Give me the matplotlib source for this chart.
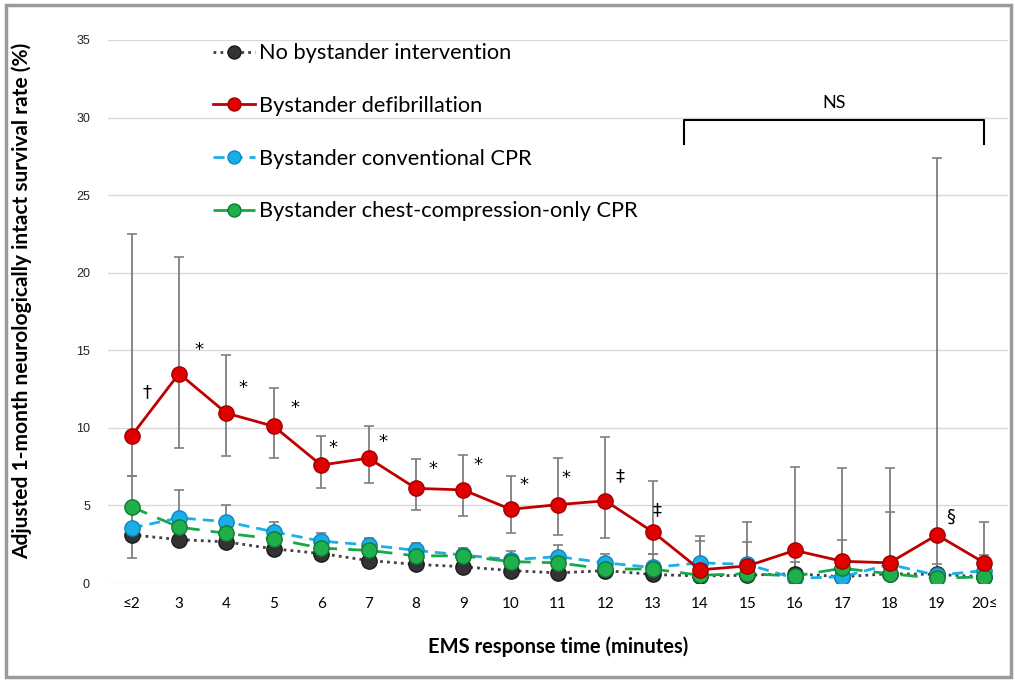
import matplotlib
matplotlib.use("Agg")
import matplotlib.pyplot as plt
from matplotlib.patches import Rectangle
import numpy as np

categories = ["≤2", "3", "4", "5", "6", "7", "8", "9", "10", "11", "12", "13",
              "14", "15", "16", "17", "18", "19", "20≤"]

no_bystander = [3.1, 2.8, 2.65, 2.2, 1.9, 1.45, 1.2, 1.05, 0.8, 0.65, 0.8, 0.55,
                0.45, 0.5, 0.6, 0.4, 0.6, 0.55, 0.4]
defib = [9.5, 13.5, 10.95, 10.1, 7.6, 8.05, 6.1, 6.0, 4.75, 5.05, 5.3, 3.3,
         0.85, 1.1, 2.1, 1.4, 1.3, 3.1, 1.3]
defib_lo = [6.9, 8.7, 8.2, 8.05, 6.1, 6.45, 4.7, 4.3, 3.2, 3.1, 2.9, 1.9,
            0.2, 0.3, 0.5, 0.3, 0.2, 0.3, 0.3]
defib_hi = [22.5, 21.0, 14.7, 12.6, 9.45, 10.1, 8.0, 8.25, 6.9, 8.05, 9.4, 6.6,
            3.0, 3.9, 7.45, 7.4, 7.4, 27.4, 3.9]
conv_cpr = [3.55, 4.2, 3.95, 3.3, 2.7, 2.45, 2.1, 1.8, 1.5, 1.7, 1.3, 1.0,
            1.3, 1.2, 0.3, 0.4, 1.2, 0.5, 0.8]
conv_lo = [1.6, 2.9, 3.0, 2.7, 2.2, 2.0, 1.7, 1.4, 1.1, 1.1, 0.9, 0.6,
           0.3, 0.3, 0.1, 0.1, 0.3, 0.1, 0.3]
conv_hi = [6.9, 6.0, 5.0, 3.9, 3.2, 2.9, 2.6, 2.25, 2.05, 2.45, 1.9, 1.9,
           2.7, 2.65, 1.35, 2.8, 4.6, 1.2, 1.8]
cc_cpr = [4.9, 3.6, 3.2, 2.85, 2.25, 2.1, 1.75, 1.75, 1.38, 1.3, 0.9, 0.9,
          0.5, 0.6, 0.45, 0.95, 0.6, 0.3, 0.4]

sig_marks = ["†", "*", "*", "*", "*", "*", "*", "*", "*", "*", "‡", "‡", "§"]
sig_x = [0.32, 1.43, 2.34, 3.44, 4.24, 5.3, 6.35, 7.3, 8.29, 9.16, 10.3, 11.1, 17.3]
sig_y = [12.3, 15.0, 12.6, 11.3, 8.7, 9.1, 7.35, 7.6, 6.3, 6.8, 6.9, 4.7, 4.25]

plt.rcParams['font.family'] = ['Lato', 'DejaVu Sans']

fig = plt.figure(figsize=(10.15, 6.81), dpi=100)
ax = fig.add_axes([108/1015, 1-583/681, 900/1015, 543/681])

x = np.arange(len(categories))

ax.errorbar(x, defib, yerr=[np.array(defib) - np.array(defib_lo), np.array(defib_hi) - np.array(defib)],
            fmt='none', ecolor='#7f7f7f', elinewidth=1.3, capsize=3.5, capthick=1.2, zorder=2)
ax.errorbar(x, conv_cpr, yerr=[np.array(conv_cpr) - np.array(conv_lo), np.array(conv_hi) - np.array(conv_cpr)],
            fmt='none', ecolor='#7f7f7f', elinewidth=1.3, capsize=3.5, capthick=1.2, zorder=2)

ms = 11
l1, = ax.plot(x, no_bystander, linestyle=(0, (1, 1.5)), color='#404040', lw=2,
              marker='o', ms=ms, mfc='#333333', mec='#1a1a1a', zorder=3,
              label='No bystander intervention')
l2, = ax.plot(x, defib, linestyle='-', color='#c00000', lw=2,
              marker='o', ms=ms, mfc='#e00000', mec='#a00000', zorder=6,
              label='Bystander defibrillation')
l3, = ax.plot(x, conv_cpr, linestyle=(0, (4, 2.5)), color='#1ab0e8', lw=2,
              marker='o', ms=ms, mfc='#1aaee8', mec='#0e86b8', zorder=4,
              label='Bystander conventional CPR')
l4, = ax.plot(x, cc_cpr, linestyle=(0, (6, 4)), color='#1aa64a', lw=2,
              marker='o', ms=ms, mfc='#1fb04c', mec='#0e7a30', zorder=5,
              label='Bystander chest-compression-only CPR')

for m, sx, sy in zip(sig_marks, sig_x, sig_y):
    ax.text(sx, sy, m, ha='center', va='center', fontsize=13, color='black',
            family=['DejaVu Sans'])

# NS bracket
ax.plot([11.67, 11.67, 18.0, 18.0], [28.3, 29.85, 29.85, 28.3], color='black', lw=1.5,
        clip_on=False, zorder=7)
ax.text(14.83, 30.95, "NS", ha='center', va='center', fontsize=13)

ax.set_xlim(-0.5, 18.5)
ax.set_ylim(0, 35)
ax.set_yticks(np.arange(0, 36, 5))
ax.set_xticks(x)
ax.set_xticklabels(categories, fontsize=11)
ax.tick_params(axis='y', labelsize=9, length=0, pad=13, labelcolor='#222222')
ax.tick_params(axis='x', length=0, pad=10)
for lab in ax.get_yticklabels():
    lab.set_family(['Liberation Sans', 'DejaVu Sans'])
ax.grid(axis='y', color='#d9d9d9', lw=1)
ax.set_axisbelow(True)
for s in ax.spines.values():
    s.set_visible(False)

ax.set_ylabel("Adjusted 1-month neurologically intact survival rate (%)",
              fontsize=15, fontweight='bold')
ax.yaxis.set_label_coords(-0.084, 0.52)
ax.set_xlabel("EMS response time (minutes)", fontsize=14.5, fontweight='bold')
ax.xaxis.set_label_coords(0.5, -0.098)

leg = ax.legend(handles=[l1, l2, l3, l4], loc='upper left',
                bbox_to_anchor=(0.095, 1.03), frameon=False, fontsize=15.7,
                labelspacing=1.5, handlelength=1.9, handletextpad=0.2,
                markerscale=0.85)

fig.patches.append(Rectangle((6/1015, 4/681), 1005/1015, 672/681, transform=fig.transFigure,
                             fill=False, edgecolor='#9a9a9a', lw=2.5))

fig.savefig("out.png", dpi=100)
